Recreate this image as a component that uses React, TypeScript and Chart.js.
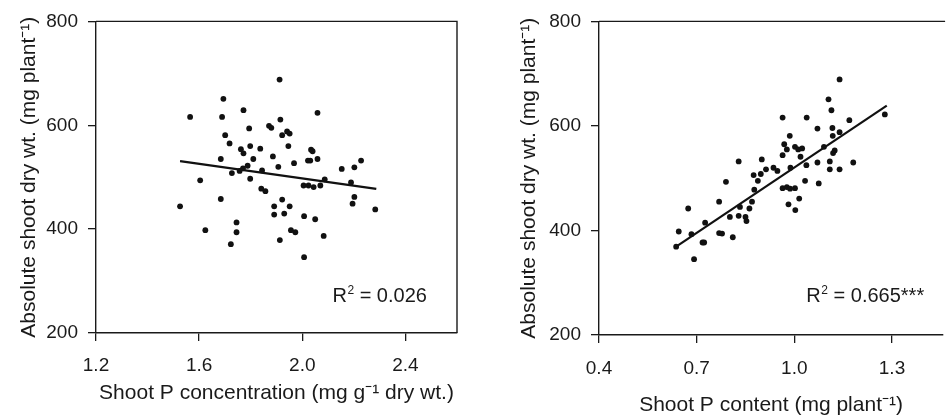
import React, { useEffect, useRef } from "react";
import { Chart, registerables } from "chart.js";

Chart.register(...registerables);

// Left panel: shoot P concentration vs absolute shoot dry wt.
const concX = [
  1.565, 1.694, 1.689, 1.772, 1.912, 1.915, 2.059, 1.701, 1.718, 1.794,
  1.871, 1.88, 1.922, 1.941, 1.951, 1.946, 1.762, 1.772, 1.798, 1.837,
  1.684, 1.81, 1.886, 2.034, 2.04, 1.968, 2.022, 2.031, 2.059, 1.907,
  1.788, 1.77, 1.727, 1.757, 1.844, 1.798, 1.604, 1.841, 1.857, 2.153,
  2.202, 2.228, 2.005, 2.024, 2.044, 2.07, 2.087, 2.189, 2.202, 2.195,
  2.283, 1.684, 1.922, 1.526, 1.891, 1.951, 1.891, 1.93, 2.007, 2.05,
  1.624, 1.745, 1.745, 1.723, 1.956, 1.973, 1.913, 2.083, 2.007,
];
const concY = [
  616, 651, 616, 629, 688, 611, 624, 581, 565, 594,
  599, 595, 581, 588, 584, 560, 554, 546, 560, 555,
  535, 535, 540, 553, 550, 527, 532, 532, 535, 520,
  522, 517, 508, 512, 513, 497, 494, 478, 473, 516,
  519, 532, 484, 484, 481, 484, 496, 490, 462, 449,
  438, 458, 457, 444, 444, 444, 428, 430, 425, 419,
  398, 413, 394, 371, 398, 394, 379, 387, 346,
];
const concFitX = [1.526, 2.287];
const concFitY = [530.8, 477.5];
const concTicksX = [1.2, 1.6, 2.0, 2.4];

// Right panel: shoot P content vs absolute shoot dry wt.
const contX = [
  1.139, 1.105, 1.114, 1.278, 1.169, 0.964, 1.038, 1.071, 1.117, 1.139,
  1.118, 0.986, 0.969, 0.977, 1.002, 1.012, 1.024, 0.964, 1.019, 1.091,
  1.124, 1.119, 0.829, 0.9, 0.988, 1.037, 1.071, 1.109, 1.181, 1.109,
  1.139, 0.913, 0.936, 0.948, 0.897, 0.875, 0.888, 0.79, 1.033, 1.075,
  0.964, 0.977, 0.987, 1.002, 0.877, 1.015, 0.674, 0.769, 0.833, 0.87,
  0.862, 0.982, 1.003, 0.726, 0.645, 0.684, 0.802, 0.829, 0.85, 0.853,
  0.769, 0.778, 0.811, 0.718, 0.723, 0.637, 0.692,
];
const contY = [
  689, 651, 630, 622, 611, 616, 616, 595, 596, 588,
  581, 581, 565, 555, 560, 555, 557, 544, 541, 560,
  553, 548, 532, 536, 520, 525, 530, 532, 530, 517,
  517, 517, 520, 514, 508, 506, 495, 493, 495, 490,
  481, 483, 480, 481, 478, 461, 442, 455, 445, 455,
  442, 450, 439, 415, 398, 393, 426, 428, 426, 418,
  395, 394, 387, 377, 377, 369, 345,
];
const contFitX = [0.637, 1.284];
const contFitY = [369, 639];
const contTicksX = [0.4, 0.7, 1.0, 1.3];

const yTicks = [200, 400, 600, 800];

const FONT = '"Liberation Sans", Arial, Helvetica, sans-serif';
const INK = "#1a1a1a";

type PanelCfg = {
  xs: number[];
  ys: number[];
  fitX: number[];
  fitY: number[];
  xTicks: number[];
  xMin: number;
  xMax: number;
  xTitle: string;
  yTitle: string;
  yAxisWidth: number;
  xAxisHeight: number;
  padRight: number;
  yTitlePad: number;
  xTitlePad: number;
  xTickPad: number;
  r2Main: string;
  r2Tail: string;
  r2X: number;
  r2Y: number;
  drawRight: boolean;
};

function makeConfig(p: PanelCfg): any {
  const frame = {
    id: "frame",
    afterDraw(chart: any) {
      const { ctx, chartArea } = chart;
      ctx.save();
      ctx.strokeStyle = INK;
      ctx.lineWidth = 1.4;
      ctx.beginPath();
      ctx.moveTo(chartArea.left, chartArea.top);
      ctx.lineTo(chartArea.right + (p.drawRight ? 0 : 2), chartArea.top);
      if (p.drawRight) ctx.lineTo(chartArea.right, chartArea.bottom);
      ctx.stroke();
      // R² annotation
      const xs = chart.scales.x;
      const ys = chart.scales.y;
      let x = xs.getPixelForValue(p.r2X);
      const y = ys.getPixelForValue(p.r2Y);
      ctx.fillStyle = INK;
      ctx.textBaseline = "alphabetic";
      ctx.textAlign = "left";
      ctx.font = `20px ${FONT}`;
      ctx.fillText("R", x, y);
      x += ctx.measureText("R").width;
      ctx.font = `12px ${FONT}`;
      ctx.fillText("2", x + 0.5, y - 8);
      x += ctx.measureText("2").width + 0.5;
      ctx.font = `20px ${FONT}`;
      ctx.fillText(p.r2Main + p.r2Tail, x, y);
      ctx.restore();
    },
  };

  return {
    type: "scatter",
    data: {
      datasets: [
        {
          type: "scatter",
          data: p.xs.map((v, i) => ({ x: v, y: p.ys[i] })),
          pointRadius: 2.9,
          pointBackgroundColor: "#111",
          pointBorderWidth: 0,
          pointHoverRadius: 2.9,
        },
        {
          type: "line",
          data: p.fitX.map((v, i) => ({ x: v, y: p.fitY[i] })),
          borderColor: "#111",
          borderWidth: 2.2,
          pointRadius: 0,
          showLine: true,
          fill: false,
        },
      ],
    },
    options: {
      animation: false,
      responsive: true,
      maintainAspectRatio: false,
      events: [],
      layout: { padding: { left: 0, top: 21, right: p.padRight, bottom: 0 } },
      plugins: { legend: { display: false }, tooltip: { enabled: false } },
      scales: {
        x: {
          type: "linear",
          position: "bottom",
          min: p.xMin,
          max: p.xMax,
          afterBuildTicks: (s: any) => {
            s.ticks = p.xTicks.map((v) => ({ value: v }));
          },
          afterFit: (s: any) => {
            s.height = p.xAxisHeight;
          },
          grid: {
            display: true,
            drawOnChartArea: false,
            drawTicks: true,
            tickLength: 8,
            color: INK,
            lineWidth: 1.3,
          },
          border: { display: true, color: INK, width: 1.4 },
          ticks: {
            color: INK,
            font: { family: FONT, size: 19 },
            padding: p.xTickPad,
            maxRotation: 0,
            callback: (v: any) => Number(v).toFixed(1),
          },
          title: {
            display: true,
            text: p.xTitle,
            color: INK,
            font: { family: FONT, size: 21 },
            padding: { top: 0, bottom: p.xTitlePad },
          },
        },
        y: {
          type: "linear",
          position: "left",
          min: 200,
          max: 800,
          afterBuildTicks: (s: any) => {
            s.ticks = yTicks.map((v) => ({ value: v }));
          },
          afterFit: (s: any) => {
            s.width = p.yAxisWidth;
          },
          grid: {
            display: true,
            drawOnChartArea: false,
            drawTicks: true,
            tickLength: 8,
            color: INK,
            lineWidth: 1.3,
          },
          border: { display: true, color: INK, width: 1.4 },
          ticks: {
            color: INK,
            font: { family: FONT, size: 19 },
            padding: 10,
            callback: (v: any) => String(v),
          },
          title: {
            display: true,
            text: p.yTitle,
            color: INK,
            font: { family: FONT, size: 21 },
            padding: { top: p.yTitlePad, bottom: 0 },
          },
        },
      },
    },
    plugins: [frame],
  };
}

function Panel({ cfg, left, width }: { cfg: PanelCfg; left: number; width: number }) {
  const ref = useRef<HTMLCanvasElement | null>(null);
  useEffect(() => {
    if (!ref.current) return;
    const chart = new Chart(ref.current, makeConfig(cfg));
    return () => chart.destroy();
  }, []);
  return (
    <div style={{ position: "absolute", left, top: 0, width, height: 416 }}>
      <canvas ref={ref} />
    </div>
  );
}

const leftCfg: PanelCfg = {
  xs: concX,
  ys: concY,
  fitX: concFitX,
  fitY: concFitY,
  xTicks: concTicksX,
  xMin: 1.2,
  xMax: 2.6,
  xTitle: "Shoot P concentration (mg g\u207B\u00B9 dry wt.)",
  yTitle: "Absolute shoot dry wt. (mg plant\u207B\u00B9)",
  yAxisWidth: 96,
  xAxisHeight: 83,
  padRight: 16,
  yTitlePad: 17,
  xTitlePad: 10,
  xTickPad: 13,
  r2Main: " = 0.026",
  r2Tail: "",
  r2X: 2.117,
  r2Y: 260,
  drawRight: true,
};

const rightCfg: PanelCfg = {
  xs: contX,
  ys: contY,
  fitX: contFitX,
  fitY: contFitY,
  xTicks: contTicksX,
  xMin: 0.4,
  xMax: 1.457,
  xTitle: "Shoot P content (mg plant\u207B\u00B9)",
  yTitle: "Absolute shoot dry wt. (mg plant\u207B\u00B9)",
  yAxisWidth: 126,
  xAxisHeight: 81,
  padRight: 0,
  yTitlePad: 44,
  xTitlePad: -2,
  xTickPad: 14,
  r2Main: " = 0.665",
  r2Tail: "***",
  r2X: 1.037,
  r2Y: 263,
  drawRight: false,
};

export default function App() {
  return (
    <div style={{ position: "absolute", left: 0, top: 0, width: 946, height: 416, background: "#fff" }}>
      <Panel cfg={leftCfg} left={0} width={473} />
      <Panel cfg={rightCfg} left={473} width={473} />
    </div>
  );
}
